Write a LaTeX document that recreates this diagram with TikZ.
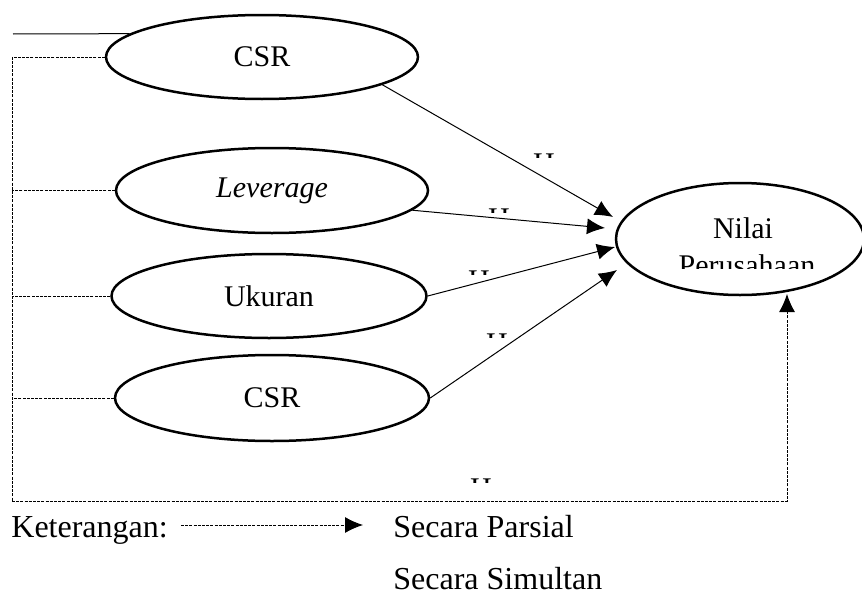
\documentclass[tikz,border=0pt]{standalone}
\usepackage{fontspec}
\setmainfont{Liberation Serif}
\usetikzlibrary{shapes.geometric,arrows.meta}

\tikzset{
  var/.style={draw, ellipse, line width=1.25pt, inner sep=0pt,
    minimum width=156pt, minimum height=42pt, font=\fontsize{15}{17}\selectfont},
  hyp/.style={font=\fontsize{15}{17}\selectfont, inner sep=0pt, anchor=base},
  legend/.style={font=\fontsize{16}{18}\selectfont, inner sep=0pt, anchor=base west},
  simultan/.style={line width=0.5pt, -{Latex[length=9pt,width=8pt]}},
  parsial/.style={line width=0.5pt, dash pattern=on 1.5pt off 0.6pt},
}

\begin{document}
\begin{tikzpicture}[x=0.5pt, y=-0.5pt]
\useasboundingbox (0,0) rectangle (862,594);

% variabel
\node[var] (csr1) at (262,57) {CSR};
\node[var, minimum height=42.5pt] (lev) at (272,190.5) {\textit{Leverage}};
\node[var, minimum width=157.5pt] (ukuran) at (269,296) {Ukuran};
\node[var, minimum width=157pt, minimum height=43pt] (csr2) at (272,398) {CSR};
\node[var, minimum width=124pt, minimum height=56pt] (nilai) at (740,239) {};

% teks nilai perusahaan (terpotong)
\begin{scope}
\clip (600,190) rectangle (862,268);
\node[hyp] (nilai1) at (743,238) {Nilai};
\node[hyp] (nilai2) at (747,275) {Perusahaan};
\end{scope}

% ujung panah
\coordinate (t1) at (613,217);
\coordinate (t2) at (605,228);
\coordinate (t3) at (615,247);
\coordinate (t4) at (617,270);
\coordinate (t5) at (787,294);
\coordinate (bl) at (12,501);
\coordinate (tl) at (13,34);

\path[simultan]
(csr1.-13) edge (t1)
(lev.-8) edge (t2)
(ukuran.east) edge (t3)
(csr2.east) edge (t4);

\draw[line width=0.5pt] (tl) -- (csr1.170);

% garis parsial
\draw[parsial] (csr1.west) -| (bl);
\draw[parsial] (lev.west) -- (lev.west -| bl);
\draw[parsial] (ukuran.west) -- (ukuran.west -| bl);
\draw[parsial] (csr2.west) -- (csr2.west -| bl);
\draw[parsial, -{Latex[length=9pt,width=8pt]}] (bl) -| (t5);

% label H (terpotong)
\foreach \hx/\hy [count=\i] in {544/153, 499/208, 479/270, 497/333, 481/478} {
  \begin{scope}
  \clip (\hx-15,\hy-2) rectangle (\hx+15,\hy+4.5);
  \node[hyp] (h\i) at (\hx,\hy+20) {H};
  \end{scope}
}

% keterangan
\node[legend] (ket) at (11,537) {Keterangan:};
\coordinate (la) at (181,525);
\coordinate (lb) at (363,525);
\draw[parsial, -{Latex[length=9pt,width=8pt]}] (la) -- (lb);
\node[legend] (parsial) at (393,537) {Secara Parsial};
\node[legend] (simultan) at (393,589) {Secara Simultan};
\end{tikzpicture}
\end{document}
